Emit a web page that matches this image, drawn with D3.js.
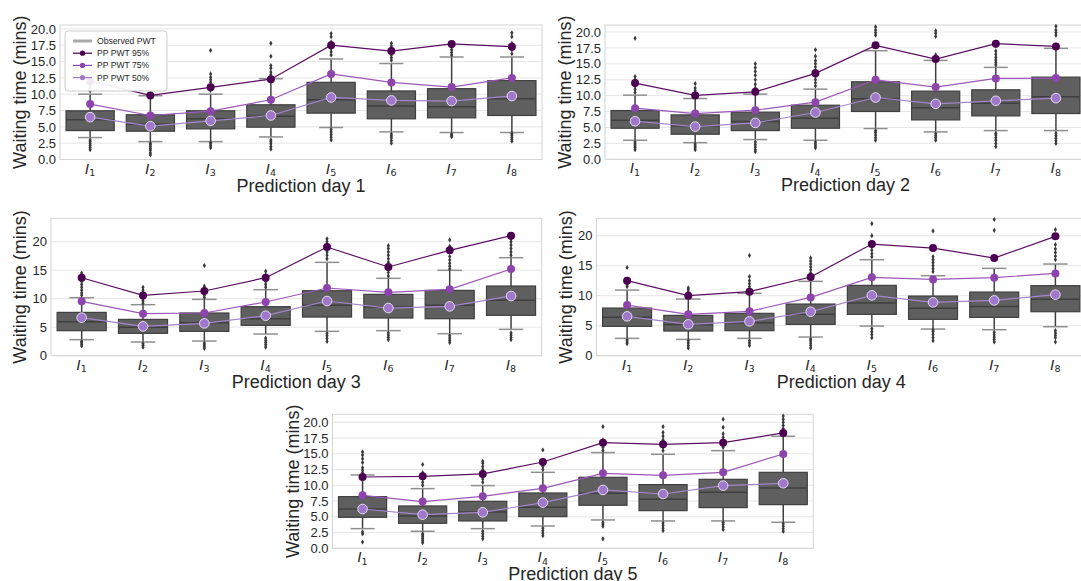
<!DOCTYPE html>
<html>
<head>
<meta charset="utf-8">
<script src="https://cdn.jsdelivr.net/npm/d3@7"></script>
<style>
html,body{margin:0;padding:0;background:#fff;overflow:hidden;}
svg{display:block;font-family:"Liberation Sans",Arial,sans-serif;}
</style>
</head>
<body>
<svg id="chart" width="1081" height="581"></svg>
<script>
// ---------------- DATA ----------------
const categories = ["1","2","3","4","5","6","7","8"];
const dayTitles = ["Prediction day 1","Prediction day 2","Prediction day 3","Prediction day 4","Prediction day 5"];
const seriesNames = ["Observed PWT","PP PWT 95%","PP PWT 75%","PP PWT 50%"];
const yTicksFine = [0,2.5,5,7.5,10,12.5,15,17.5,20];
const yTicksCoarse = [0,5,10,15,20];

// box statistics per day (rows) and interval (columns)
const q1 = [
  [4.43,4.33,4.69,4.95,7.10,6.23,6.38,6.74],
  [4.88,3.94,4.51,4.88,7.51,6.19,6.82,7.19],
  [4.39,3.92,4.27,5.32,6.78,6.61,6.49,7.08],
  [4.89,4.11,4.17,5.22,6.89,6.06,6.39,7.33],
  [4.92,3.97,4.34,5.03,6.83,5.98,6.46,6.93]
];
const median = [
  [6.08,5.40,6.23,6.64,9.15,8.18,8.08,9.30],
  [6.14,5.25,5.93,6.46,9.50,8.08,8.82,9.82],
  [5.96,4.97,5.79,6.49,8.83,8.54,8.83,9.71],
  [6.39,5.22,5.50,6.89,8.78,7.89,8.22,9.39],
  [6.24,5.13,5.77,6.51,8.73,7.78,8.89,9.58]
];
const q3 = [
  [7.46,6.85,7.46,8.38,11.82,10.50,10.85,12.08],
  [7.66,6.98,7.40,8.50,12.18,10.71,10.92,12.91],
  [7.60,6.37,7.49,8.60,11.40,10.76,11.46,12.22],
  [7.94,6.72,7.06,8.61,11.72,9.94,10.61,11.67],
  [8.20,6.72,7.46,8.78,11.27,10.11,10.95,12.06]
];
const whiskerLow = [
  [3.36,2.74,2.74,3.46,4.90,4.23,4.13,4.13],
  [2.99,2.62,3.10,2.99,4.83,4.30,4.51,4.51],
  [2.81,2.40,2.57,3.80,4.27,4.39,3.86,4.62],
  [2.89,2.72,2.89,3.11,4.94,4.44,4.33,4.83],
  [3.12,2.70,3.12,3.54,4.50,4.34,4.34,4.13]
];
const whiskerHigh = [
  [10.00,9.77,10.00,12.38,15.40,14.70,15.70,15.70],
  [10.08,9.55,10.24,11.02,17.06,15.54,14.44,17.43],
  [10.18,8.95,9.88,11.58,16.37,13.57,14.97,17.19],
  [10.94,9.44,10.39,12.39,16.00,13.33,14.56,15.28],
  [11.64,9.47,9.95,12.06,15.19,14.92,15.50,17.78]
];
const outliersHigh = [
  [[10.5,11.0,11.5],[10.2],[10.6,11.2,11.8,12.2,12.6,13.1,16.7],[12.6,13.0,13.4,14.0,14.4,15.8,17.8],[16.0,16.5,17.0,17.5,18.0,18.8,19.3],[15.2,15.6,16.0,16.5,17.0,17.4,17.8],[16.0,16.4,16.8,17.2,17.6],[16.2,16.8,17.3,17.8,18.8,19.4]],
  [[10.5,11.0,11.5,12.0,12.5,13.0,19.0],[10.0,10.4,10.8,11.2,11.9],[10.6,11.2,11.8,12.5,13.2,13.8,14.4,15.0],[11.5,12.0,12.5,13.0,13.5,14.0,14.5,15.0,15.5,16.2,17.2],[19.5,19.9,20.3,20.8],[16.0,16.4,19.3,19.8,20.2],[14.8,15.2,15.6,16.0,16.5,17.0,17.8],[19.5,19.9,20.3,20.9]],
  [[10.6,11.0,11.5,12.0,12.5,13.0,13.5,14.0,14.5],[9.2,9.6,10.0,10.5,11.0,11.5,12.0],[10.2,10.6,11.0,11.5,12.2,15.8],[12.0,12.5,13.0,13.5,14.2,14.8],[17.0,17.6,18.2,18.8,19.4,20.0,20.5],[14.0,14.6,15.2,15.8,16.4,17.0,17.6,18.2,18.8,19.3],[15.2,15.7,16.2,16.8,17.4,19.2,20.3],[17.6,18.2,18.8,19.4,20.0,20.5,21.0]],
  [[11.5,11.8,12.2,14.7],[9.8,10.2,10.6,11.0,11.3],[11.0,11.5,12.0,12.5,13.2,16.7],[12.8,13.3,13.8,14.3,14.8,15.3,15.8,16.3],[16.5,17.0,17.6,18.2,20.0,22.0],[14.0,14.5,15.0,15.5,16.0,16.5,20.8],[20.9,22.7],[16.0,16.6,17.2,17.8,18.5,21.0]],
  [[12.0,12.4,12.8,13.6,14.2,14.8,15.3],[10.0,10.5,11.0,11.5,12.0,13.3],[10.5,11.0,12.5,13.0,13.5,13.8],[12.5,13.0,13.5,14.0,15.6],[15.5,16.0,16.6,17.2,19.3],[15.5,16.0,16.6,17.2,17.8,18.4,19.3],[16.0,16.5,17.0,17.6,18.2,19.2,20.5],[18.5,19.0,19.5,20.0,20.5,21.0]]
];
const outliersLow = [
  [[1.5,1.8,2.1,2.4,2.7,3.0],[0.7,1.0,1.4,1.7,2.0,2.3,2.5],[1.8,2.1,2.4,2.6],[1.6,2.0,2.4,2.7,3.0],[3.0,3.4,3.8,4.2,4.6],[2.5,2.9,3.3,3.6,3.9],[3.5,3.7,3.9],[2.8,3.1,3.4,3.7,4.0]],
  [[1.5,1.8,2.1,2.4,2.7],[1.5,1.8,2.1,2.4],[1.2,1.5,1.9,2.3,2.7],[1.8,2.1,2.4,2.7],[3.0,3.4,3.8,4.2,4.5],[3.0,3.4,3.7,4.0],[2.0,2.5,3.0,3.4,3.8,4.1],[2.5,2.9,3.3,3.7,4.1]],
  [[1.7,2.0,2.3,2.5],[1.5,1.8,2.1],[1.3,1.6,1.9,2.2],[1.5,1.9,2.3,2.7,3.1],[2.5,3.0,3.5,3.9],[2.8,3.2,3.6,4.0],[2.3,2.7,3.1,3.5],[2.8,3.2,3.6,4.0]],
  [[2.0,2.3,2.6],[1.3,1.7,2.1,2.5],[1.7,2.1,2.5],[1.3,1.7,2.1,2.5,2.8],[3.0,3.5,4.0,4.5],[2.5,3.0,3.5,4.0,4.3],[2.3,2.7,3.1,3.5,3.9],[2.3,3.0,3.4,3.8,4.2]],
  [[1.0,2.3,2.6],[0.9,1.2,1.5,1.8,2.1,2.3],[1.5,1.9,2.3,2.7],[2.0,2.4,2.8,3.2],[1.5,3.5,3.8,4.1],[2.8,3.2,3.6,4.0],[3.0,3.4,3.8,4.1],[2.7,3.1,3.5,3.9]]
];
// predicted percentiles
const pwt95 = [
  [12.0,9.82,11.05,12.3,17.5,16.6,17.7,17.26],
  [11.97,10.03,10.6,13.5,17.9,15.75,18.16,17.74],
  [13.68,10.58,11.35,13.68,19.06,15.56,18.48,21.05],
  [12.5,10.0,10.67,13.11,18.61,17.94,16.28,19.89],
  [11.32,11.43,11.8,13.7,16.77,16.51,16.77,18.31]
];
const pwt75 = [
  [8.49,6.74,7.4,9.15,13.1,11.8,11.1,12.5],
  [8.03,7.19,7.72,8.98,12.49,11.34,12.7,12.76],
  [9.53,7.37,7.49,9.42,11.87,11.11,11.64,15.2],
  [8.44,6.89,7.39,9.72,13.06,12.72,13.0,13.72],
  [8.41,7.41,8.25,9.52,11.9,11.59,12.06,14.97]
];
const pwt50 = [
  [6.49,5.1,5.92,6.74,9.5,9.05,8.95,9.72],
  [5.98,5.14,5.72,7.35,9.71,8.71,9.19,9.61],
  [6.67,5.15,5.67,7.02,9.59,8.36,8.65,10.47],
  [6.56,5.22,5.72,7.33,10.06,8.89,9.22,10.17],
  [6.24,5.34,5.71,7.25,9.26,8.62,9.95,10.32]
];

// ---------------- LAYOUT ----------------
const panels = [
  {left:60,   right:542,  top:25,    bottom:159.5, ymax:20.6,  fine:true},
  {left:605,  right:1086, top:25,    bottom:159.3, ymax:21.1,  fine:true},
  {left:51,   right:541.7,top:218.3, bottom:355.7, ymax:24.1,  fine:false},
  {left:596.5,right:1086, top:218.3, bottom:355.7, ymax:22.9,  fine:false},
  {left:332.5,right:813.3,top:414.3, bottom:548.3, ymax:21.27, fine:true}
];
const colors = {
  grid:"#e6e6e6", spine:"#d4d4d4", text:"#262626",
  boxFill:"#5f5f5f", boxEdge:"#3f3f3f", whisker:"#3f3f3f", cap:"#8f8f8f", flier:"#3a3a3a",
  obs:"#aaaaaa", p95:"#4b0052", p95line:"#5c0d63", p75:"#8e44ad", p75line:"#9b58b8", p50:"#9f78cc", p50line:"#a585cf"
};

const svg = d3.select("#chart");
svg.append("rect").attr("width",1081).attr("height",581).attr("fill","#fff");

panels.forEach((P, d) => {
  const g = svg.append("g");
  const x = d3.scaleBand().domain(categories).range([P.left, P.right]).paddingInner(0).paddingOuter(0);
  const y = d3.scaleLinear().domain([0, P.ymax]).range([P.bottom, P.top]);
  const ticks = P.fine ? yTicksFine : yTicksCoarse;
  const fmt = P.fine ? d3.format(".1f") : d3.format("d");

  // grid
  g.selectAll(".grid").data(ticks).join("line")
    .attr("x1",P.left).attr("x2",P.right)
    .attr("y1",v=>y(v)).attr("y2",v=>y(v))
    .attr("stroke",colors.grid).attr("stroke-width",1);

  // y axis via d3 axis
  const yAxis = d3.axisLeft(y).tickValues(ticks).tickFormat(fmt).tickSize(0).tickPadding(4);
  const ya = g.append("g").attr("transform",`translate(${P.left},0)`).call(yAxis);
  ya.select(".domain").remove();
  ya.selectAll("text").attr("fill",colors.text).attr("font-size","13px")
    .attr("font-family","'Liberation Sans',Arial,sans-serif");

  // x axis via d3 axis (labels replaced by math-style text)
  const xAxis = d3.axisBottom(x).tickSize(0).tickFormat("");
  const xa = g.append("g").attr("transform",`translate(0,${P.bottom})`).call(xAxis);
  xa.select(".domain").remove();
  xa.selectAll(".tick").append("text")
    .attr("y",14).attr("text-anchor","middle").attr("fill",colors.text)
    .attr("font-family","'DejaVu Sans',sans-serif")
    .each(function(c){
      const t = d3.select(this);
      t.append("tspan").attr("font-style","italic").attr("font-size","14px").text("I");
      t.append("tspan").attr("font-size","9.5px").attr("dy","2.5").text(c);
    });

  // spines
  g.append("rect").attr("x",P.left).attr("y",P.top)
    .attr("width",P.right-P.left).attr("height",P.bottom-P.top)
    .attr("fill","none").attr("stroke",colors.spine).attr("stroke-width",1);

  const bw = x.bandwidth()*0.8;
  const cw = bw*0.5;
  const cx = c => x(c) + x.bandwidth()/2;

  categories.forEach((c,i) => {
    const xc = cx(c);
    // whiskers
    g.append("line").attr("x1",xc).attr("x2",xc).attr("y1",y(q3[d][i])).attr("y2",y(whiskerHigh[d][i]))
      .attr("stroke",colors.whisker).attr("stroke-width",1.5);
    g.append("line").attr("x1",xc).attr("x2",xc).attr("y1",y(q1[d][i])).attr("y2",y(whiskerLow[d][i]))
      .attr("stroke",colors.whisker).attr("stroke-width",1.5);
    // caps
    [whiskerHigh[d][i], whiskerLow[d][i]].forEach(v => {
      g.append("line").attr("x1",xc-cw/2).attr("x2",xc+cw/2).attr("y1",y(v)).attr("y2",y(v))
        .attr("stroke",colors.cap).attr("stroke-width",1.5);
    });
    // box
    g.append("rect").attr("x",xc-bw/2).attr("y",y(q3[d][i]))
      .attr("width",bw).attr("height",y(q1[d][i])-y(q3[d][i]))
      .attr("fill",colors.boxFill).attr("stroke",colors.boxEdge).attr("stroke-width",1.2);
    g.append("line").attr("x1",xc-bw/2).attr("x2",xc+bw/2).attr("y1",y(median[d][i])).attr("y2",y(median[d][i]))
      .attr("stroke",colors.boxEdge).attr("stroke-width",1.5);
    // fliers
    const fl = outliersHigh[d][i].concat(outliersLow[d][i]);
    g.selectAll(null).data(fl).join("path")
      .attr("d","M0,-2.6L1.6,0L0,2.6L-1.6,0Z")
      .attr("transform",v=>`translate(${xc},${y(v)})`)
      .attr("fill",colors.flier);
  });

  // percentile lines
  const line = d3.line().x((v,i)=>cx(categories[i])).y(v=>y(v));
  const series = [
    {vals:pwt95[d], lc:colors.p95line, mc:colors.p95, r:4, stroke:"none"},
    {vals:pwt75[d], lc:colors.p75line, mc:colors.p75, r:4, stroke:"none"},
    {vals:pwt50[d], lc:colors.p50line, mc:colors.p50, r:4.8, stroke:"#e8dcf2"}
  ];
  series.forEach(s => {
    g.append("path").datum(s.vals).attr("d",line).attr("fill","none")
      .attr("stroke",s.lc).attr("stroke-width",1.2);
    g.selectAll(null).data(s.vals).join("circle")
      .attr("cx",(v,i)=>cx(categories[i])).attr("cy",v=>y(v)).attr("r",s.r)
      .attr("fill",s.mc).attr("stroke",s.stroke).attr("stroke-width",1);
  });

  // axis labels
  const labOff = P.fine ? 34 : 25;
  g.append("text").attr("transform",`translate(${P.left-labOff},${(P.top+P.bottom)/2}) rotate(-90)`)
    .attr("text-anchor","middle").attr("font-size","18px").attr("fill",colors.text)
    .text("Waiting time (mins)");
  g.append("text").attr("x",(P.left+P.right)/2).attr("y",P.bottom+32)
    .attr("text-anchor","middle").attr("font-size","18px").attr("fill",colors.text)
    .text(dayTitles[d]);

  // legend on first panel
  if (d === 0) {
    const L = g.append("g").attr("transform",`translate(${P.left+5},${P.top+6})`);
    L.append("rect").attr("x",0).attr("y",0).attr("width",102).attr("height",60).attr("rx",3)
      .attr("fill","#fff").attr("fill-opacity",0.92).attr("stroke","#cccccc").attr("stroke-width",1);
    const items = [
      {name:seriesNames[0], c:colors.obs, w:3, m:false},
      {name:seriesNames[1], c:colors.p95, w:1.2, m:true},
      {name:seriesNames[2], c:colors.p75, w:1.2, m:true},
      {name:seriesNames[3], c:colors.p50, w:1.2, m:true}
    ];
    items.forEach((it,k) => {
      const yy = 10 + k*12.2;
      L.append("line").attr("x1",8).attr("x2",27).attr("y1",yy).attr("y2",yy)
        .attr("stroke",it.c).attr("stroke-width",it.w);
      if (it.m) L.append("circle").attr("cx",17.5).attr("cy",yy).attr("r",2.6).attr("fill",it.c);
      L.append("text").attr("x",32).attr("y",yy+3).attr("font-size","8.6px").attr("fill",colors.text).text(it.name);
    });
  }
});
</script>
</body>
</html>
